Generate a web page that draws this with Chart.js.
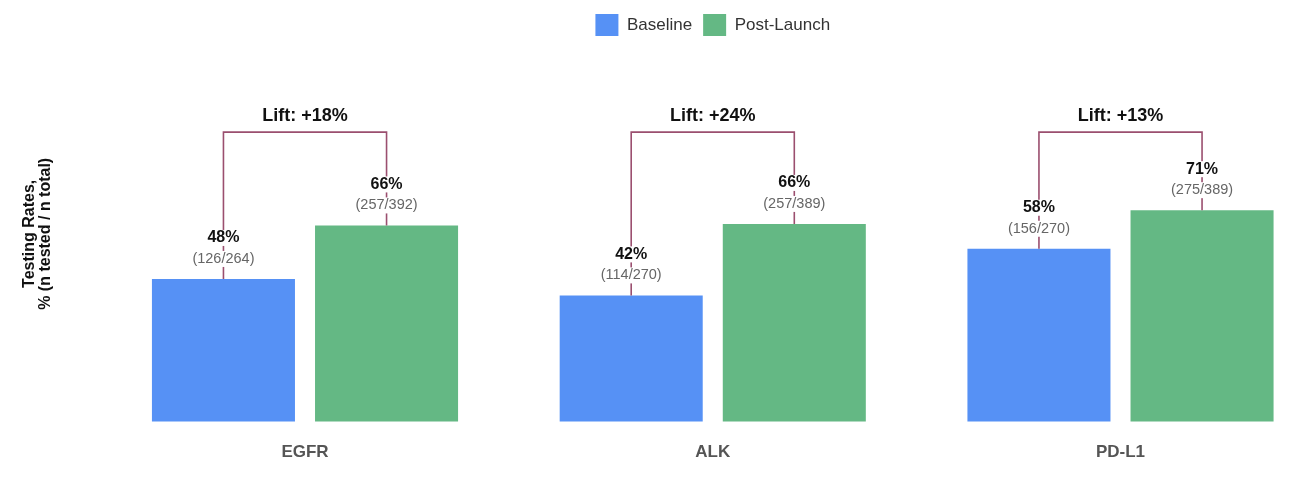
<!DOCTYPE html>
<html><head><meta charset="utf-8">
<script src="https://cdn.jsdelivr.net/npm/chart.js@4.4.1/dist/chart.umd.min.js"></script>
<style>html,body{margin:0;padding:0;background:#fff}#wrap{width:1293px;height:495px}</style>
</head><body><div id="wrap"><canvas id="c" width="1293" height="495"></canvas></div>
<script>
const categories = ['EGFR', 'ALK', 'PD-L1'];
const seriesNames = ['Baseline', 'Post-Launch'];
const baselinePct = [47.7, 42.2, 57.8];
const postPct = [65.6, 66.1, 70.7];
const baselineTested = [126, 114, 156];
const baselineTotal = [264, 270, 270];
const postTested = [257, 257, 275];
const postTotal = [392, 389, 389];
const liftPct = [18, 24, 13];
const bracketLevel = 96.8;
const yMax = 125.6;

const FONT = "'Liberation Sans', Arial, Helvetica, sans-serif";
const BLUE = '#5691F5', GREEN = '#64B884', LINE = '#9B4F6F';

function boxedLabel(ctx, text, x, y, font, color, h) {
  ctx.font = font;
  const w = ctx.measureText(text).width;
  ctx.fillStyle = '#fff';
  ctx.fillRect(x - w / 2 - 2, y - h / 2, w + 4, h);
  ctx.fillStyle = color;
  ctx.textAlign = 'center';
  ctx.textBaseline = 'middle';
  ctx.fillText(text, x, y);
}

const annot = {
  id: 'annot',
  afterDatasetsDraw(chart) {
    const ctx = chart.ctx;
    const yb = chart.scales.y.getPixelForValue(bracketLevel);
    const m0 = chart.getDatasetMeta(0), m1 = chart.getDatasetMeta(1);
    categories.forEach((c, i) => {
      const b0 = m0.data[i], b1 = m1.data[i];
      ctx.save();
      ctx.strokeStyle = LINE;
      ctx.lineWidth = 1.6;
      ctx.beginPath();
      ctx.moveTo(b0.x, b0.y);
      ctx.lineTo(b0.x, yb);
      ctx.lineTo(b1.x, yb);
      ctx.lineTo(b1.x, b1.y);
      ctx.stroke();
      const items = [
        [b0, baselinePct[i], baselineTested[i], baselineTotal[i]],
        [b1, postPct[i], postTested[i], postTotal[i]]
      ];
      items.forEach(([b, p, t, n]) => {
        boxedLabel(ctx, Math.round(p) + '%', b.x, b.y - 41, 'bold 16px ' + FONT, '#111', 16);
        boxedLabel(ctx, '(' + t + '/' + n + ')', b.x, b.y - 20, '14.5px ' + FONT, '#666', 16);
      });
      ctx.font = 'bold 18px ' + FONT;
      ctx.fillStyle = '#111';
      ctx.textAlign = 'center';
      ctx.textBaseline = 'middle';
      ctx.fillText('Lift: +' + liftPct[i] + '%', (b0.x + b1.x) / 2, yb - 16);
      ctx.restore();
    });
  }
};

new Chart(document.getElementById('c'), {
  type: 'bar',
  data: {
    labels: categories,
    datasets: [
      { label: seriesNames[0], data: baselinePct, backgroundColor: BLUE, clip: false },
      { label: seriesNames[1], data: postPct, backgroundColor: GREEN, clip: false }
    ]
  },
  options: {
    responsive: false,
    animation: false,
    devicePixelRatio: 1,
    categoryPercentage: 0.8,
    barPercentage: 0.877,
    layout: { padding: { left: 0, right: 172.5, top: 3, bottom: 11 } },
    plugins: {
      legend: {
        position: 'top',
        fullSize: false,
        labels: {
          boxWidth: 23, boxHeight: 22, padding: 11,
          color: '#333',
          font: { family: FONT, size: 17 }
        }
      },
      tooltip: { enabled: false }
    },
    scales: {
      x: {
        offset: false,
        grid: { display: false, drawTicks: false },
        border: { display: false },
        ticks: { color: '#555', padding: 21, font: { family: FONT, size: 17, weight: 'bold' } }
      },
      y: {
        min: 0, max: yMax,
        grid: { display: false, drawTicks: false },
        border: { display: false },
        ticks: { display: false },
        afterFit(scale) { scale.width = 305; },
        title: {
          display: true,
          text: ['Testing Rates,', '% (n tested / n total)'],
          color: '#111',
          padding: { top: 22, bottom: 0 },
          font: { family: FONT, size: 16, weight: 'bold', lineHeight: 1 }
        }
      }
    }
  },
  plugins: [annot]
});
</script></body></html>
